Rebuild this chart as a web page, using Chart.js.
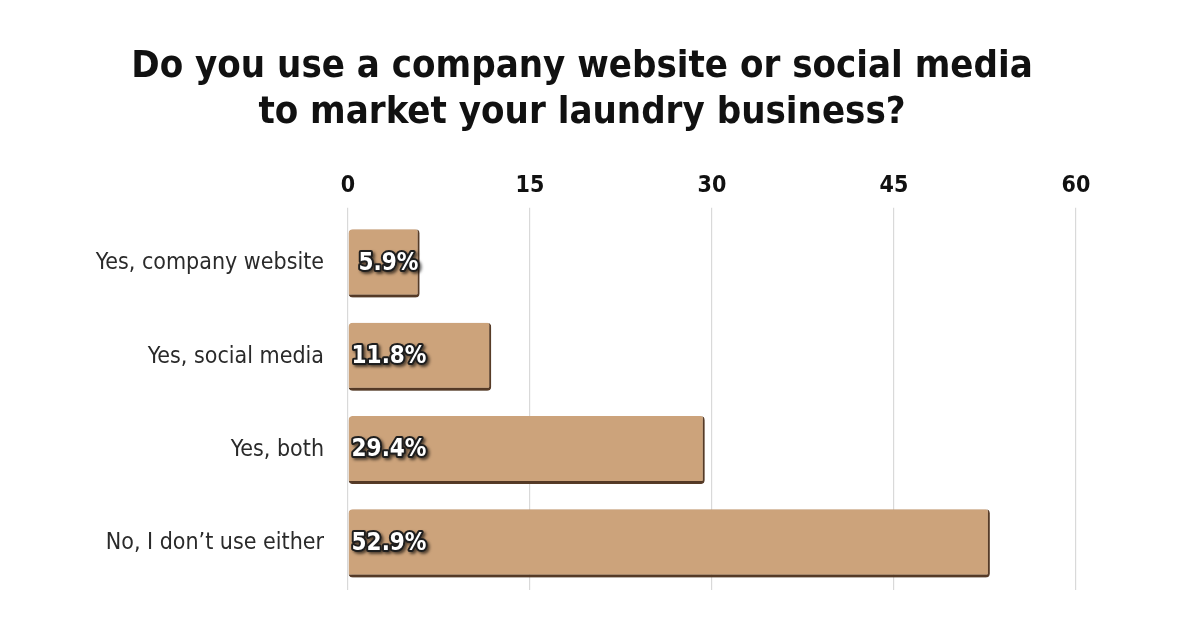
<!DOCTYPE html>
<html>
<head>
<meta charset="utf-8">
<script src="https://cdn.jsdelivr.net/npm/chart.js@4"></script>
<style>
  html, body { margin: 0; padding: 0; background: #fff; }
  #wrap { width: 1200px; height: 628px; position: relative; }
</style>
</head>
<body>
<div id="wrap"><canvas id="surveyChart"></canvas></div>
<script>
// survey answers and shares (percent)
const categories = ['Yes, company website', 'Yes, social media', 'Yes, both', 'No, I don\u2019t use either'];
const shares = [5.9, 11.8, 29.4, 52.9];
const xTicks = [0, 15, 30, 45, 60];
const titleLines = ['Do you use a company website or social media', 'to market your laundry business?'];

const narrow = "'Liberation Sans Narrow', 'DejaVu Sans Condensed', 'Roboto Condensed', Arial, sans-serif";

// soft drop shadow under the bars
const barShadow = {
  id: 'barShadow',
  beforeDatasetsDraw(chart) {
    const ctx = chart.ctx;
    ctx.save();
    ctx.shadowColor = 'rgba(60, 40, 25, 0.45)';
    ctx.shadowBlur = 4;
    ctx.shadowOffsetX = 1;
    ctx.shadowOffsetY = 2;
  },
  afterDatasetsDraw(chart) {
    chart.ctx.restore();
  }
};

// white outlined value labels at the start of each bar
const valueLabels = {
  id: 'valueLabels',
  afterDatasetsDraw(chart) {
    const ctx = chart.ctx;
    const meta = chart.getDatasetMeta(0);
    ctx.save();
    ctx.font = 'bold 24px ' + narrow;
    ctx.textAlign = 'left';
    ctx.textBaseline = 'middle';
    ctx.lineJoin = 'round';
    meta.data.forEach((bar, i) => {
      const text = shares[i].toFixed(1) + '%';
      const x = bar.base + (i === 0 ? 10 : 3);
      const y = bar.y;
      ctx.shadowColor = 'rgba(0, 0, 0, 0.6)';
      ctx.shadowBlur = 3;
      ctx.shadowOffsetX = 2;
      ctx.shadowOffsetY = 2;
      ctx.strokeStyle = '#1e1e1e';
      ctx.lineWidth = 4;
      ctx.strokeText(text, x, y);
      ctx.shadowColor = 'transparent';
      ctx.fillStyle = '#ffffff';
      ctx.fillText(text, x, y);
    });
    ctx.restore();
  }
};

const ctx = document.getElementById('surveyChart').getContext('2d');
new Chart(ctx, {
  type: 'bar',
  data: {
    labels: categories,
    datasets: [{
      data: shares,
      backgroundColor: '#cca37b',
      borderColor: '#5e412c',
      borderWidth: { top: 0, left: 0, right: 2, bottom: 3 },
      borderSkipped: false,
      borderRadius: 4,
      barPercentage: 0.73,
      categoryPercentage: 1
    }]
  },
  options: {
    indexAxis: 'y',
    responsive: true,
    maintainAspectRatio: false,
    animation: false,
    layout: {
      padding: { left: 88, right: 124, top: 0, bottom: 38 }
    },
    plugins: {
      legend: { display: false },
      tooltip: { enabled: false },
      title: {
        display: true,
        text: titleLines,
        color: '#111111',
        font: { family: narrow, size: 38, weight: 'bold', lineHeight: 1.22 },
        padding: { top: 44, bottom: 12 }
      }
    },
    scales: {
      x: {
        position: 'top',
        min: 0,
        max: 60,
        afterBuildTicks(axis) {
          axis.ticks = xTicks.map(v => ({ value: v }));
        },
        afterFit(axis) {
          axis.height = 68;
        },
        grid: {
          color: '#d9d9d9',
          lineWidth: 1.2,
          tickLength: 9,
          drawTicks: true
        },
        border: { display: false },
        ticks: {
          color: '#111111',
          padding: 8,
          font: { family: narrow, size: 23, weight: 'bold' }
        }
      },
      y: {
        afterFit(axis) {
          axis.width = 260;
        },
        grid: { display: false },
        border: { display: false },
        ticks: {
          color: '#2a2a2a',
          padding: 16,
          font: { family: narrow, size: 23 }
        }
      }
    }
  },
  plugins: [barShadow, valueLabels]
});
</script>
</body>
</html>
